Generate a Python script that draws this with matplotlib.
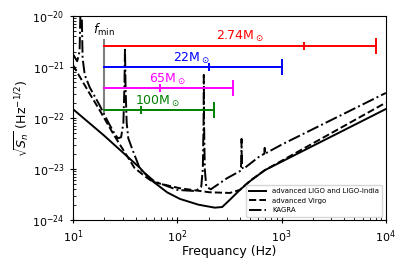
import matplotlib
matplotlib.use("Agg")
import matplotlib.pyplot as plt
from matplotlib.ticker import NullFormatter

# noise curves (frequency in Hz, ASD in Hz^-1/2)
ligo_f = [10, 20, 44, 55, 80, 106, 160, 229, 270, 320, 399, 500, 692, 10000]
ligo_h = [1.5e-22, 4.5e-23, 1.05e-23, 6.3e-24, 3.5e-24, 2.6e-24, 2.0e-24, 1.75e-24,
          1.8e-24, 2.5e-24, 3.9e-24, 5.8e-24, 9.5e-24, 1.5e-22]

virgo_f = [10, 14.5, 18, 25, 39, 50, 58.5, 80, 106, 205, 320, 399, 500, 692, 10000]
virgo_h = [1.1e-21, 3.0e-22, 1.44e-22, 4.5e-23, 1.05e-23, 7e-24, 5.6e-24, 4.8e-24,
           4.2e-24, 3.5e-24, 3.4e-24, 3.9e-24, 5.9e-24, 9.5e-24, 2.0e-22]

kagra_f = [10, 11, 11.6, 12.0, 12.4, 13, 14.5, 18, 22, 25, 27, 29, 30.5, 31.2, 31.6,
           32.0, 32.8, 34, 37, 44, 60, 100, 150, 170, 176, 179, 180, 181, 184, 190,
           210, 300, 400, 409, 413, 414, 415, 419, 430, 600, 685, 690, 695, 1000, 10000]
kagra_h = [1.8e-21, 1.3e-21, 2e-21, 5e-20, 1.5e-21, 7e-22, 4e-22, 1.8e-22, 8e-23, 5e-23,
           4e-23, 4.2e-23, 8e-23, 4e-22, 2.4e-21, 4e-22, 8e-23, 4e-23, 2.5e-23, 1e-23,
           5.8e-24, 3.9e-24, 3.7e-24, 4.5e-24, 1e-23, 8e-23, 7e-22, 8e-23, 1e-23, 4.5e-24,
           4.0e-24, 6.6e-24, 9.1e-24, 1.1e-23, 2e-23, 3.9e-23, 2e-23, 1.1e-23, 1.0e-23,
           1.7e-23, 2.0e-23, 2.6e-23, 2.0e-23, 3.0e-23, 3.1e-22]

# frequency bands for each source mass
f_min = 20
band_labels = ["2.74M$_\\odot$", "22M$_\\odot$", "65M$_\\odot$", "100M$_\\odot$"]
band_colors = ["red", "blue", "magenta", "green"]
band_level = [2.6e-21, 1.0e-21, 3.9e-22, 1.44e-22]
band_mid = [1630, 203, 69, 45]
band_end = [8040, 1010, 342, 225]
label_f = [400, 138, 81, 65]
label_h = [3.9e-21, 1.5e-21, 5.6e-22, 2.1e-22]

x_ticks = [1e1, 1e2, 1e3, 1e4]
y_ticks = [1e-24, 1e-23, 1e-22, 1e-21, 1e-20]

fig = plt.figure(figsize=(4.07, 2.71), dpi=100)
ax = fig.add_axes([0.179, 0.188, 0.769, 0.753])

ax.loglog(ligo_f, ligo_h, 'k-', lw=1.4, label="advanced LIGO and LIGO-India")
ax.loglog(virgo_f, virgo_h, 'k--', lw=1.4, label="advanced Virgo")
ax.loglog(kagra_f, kagra_h, 'k-.', lw=1.4, label="KAGRA")

ax.plot([f_min, f_min], [3.4e-21, 1.3e-22], color='grey', lw=1.5)
ax.text(f_min, 5.3e-21, "$f_{\\rm min}$", ha='center', va='center', fontsize=9)

for i in range(4):
    c = band_colors[i]
    ax.plot([f_min, band_end[i]], [band_level[i], band_level[i]], color=c, lw=1.4)
    ax.plot([band_mid[i]], [band_level[i]], marker='|', color=c, ms=6, mew=1.4)
    ax.plot([band_end[i]], [band_level[i]], marker='|', color=c, ms=11, mew=1.4)
    ax.text(label_f[i], label_h[i], band_labels[i], color=c, ha='center', va='center',
            fontsize=9)

ax.set_xticks(x_ticks)
ax.set_yticks(y_ticks)
ax.set_xlim(10, 1e4)
ax.set_ylim(1e-24, 1e-20)
ax.set_xlabel("Frequancy (Hz)", fontsize=9, labelpad=0)
ax.set_ylabel("$\\sqrt{S_n}$ (Hz$^{-1/2}$)", fontsize=9, labelpad=0)
ax.xaxis.set_minor_formatter(NullFormatter())
ax.yaxis.set_minor_formatter(NullFormatter())
ax.tick_params(which='major', labelsize=8, direction='inout', length=5)
ax.tick_params(which='minor', direction='in', length=2)

ax.legend(loc='lower right', fontsize=5, borderpad=0.5, handlelength=2.5)

fig.savefig("out.png", dpi=100)
